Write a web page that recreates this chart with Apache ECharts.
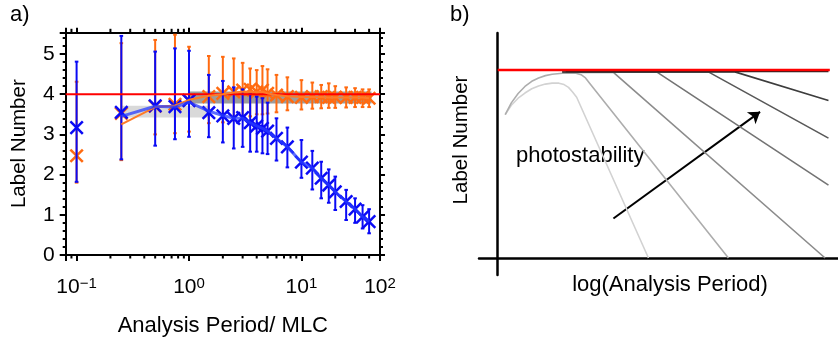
<!DOCTYPE html>
<html>
<head>
<meta charset="utf-8">
<script src="https://cdn.jsdelivr.net/npm/echarts@6/dist/echarts.min.js"></script>
<style>
html, body { margin: 0; padding: 0; background: #fff; }
#main { width: 838px; height: 342px; }
</style>
</head>
<body>
<div id="main"></div>
<script>
// panel a: analysis period (MLC) and label numbers
var period = [0.1, 0.25, 0.5, 0.75, 1, 1.5, 2, 2.5, 3, 3.5, 4, 4.5, 5, 6, 7.5, 10, 12.5, 15, 17.5, 20, 25, 30, 35, 40];
var blueMean = [3.17, 3.55, 3.71, 3.69, 3.84, 3.54, 3.46, 3.40, 3.42, 3.29, 3.21, 3.15, 3.08, 2.90, 2.69, 2.31, 2.16, 1.91, 1.74, 1.57, 1.33, 1.14, 0.95, 0.83];
var blueHigh = [4.81, 5.45, 5.06, 5.14, 5.08, 4.48, 4.33, 4.17, 4.12, 4.00, 3.94, 3.90, 3.79, 3.40, 3.17, 2.86, 2.59, 2.32, 2.13, 1.95, 1.62, 1.41, 1.24, 1.14];
var blueLow = [1.82, 2.38, 2.72, 2.88, 2.94, 2.93, 2.80, 2.65, 2.69, 2.57, 2.57, 2.53, 2.51, 2.35, 2.18, 1.92, 1.63, 1.41, 1.30, 1.12, 0.87, 0.80, 0.66, 0.54];
var orangeMean = [2.47, 3.52, 3.70, 3.75, 3.85, 3.94, 4.02, 4.06, 4.10, 4.12, 4.06, 4.10, 4.02, 3.98, 3.94, 3.92, 3.94, 3.94, 3.92, 3.92, 3.92, 3.92, 3.92, 3.90];
var orangeHigh = [4.31, 5.27, 5.35, 5.48, 5.18, 4.95, 4.93, 4.89, 4.78, 4.64, 4.60, 4.70, 4.62, 4.48, 4.42, 4.35, 4.29, 4.23, 4.27, 4.20, 4.17, 4.15, 4.12, 4.12];
var orangeLow = [1.80, 2.36, 3.00, 3.03, 3.07, 3.28, 3.30, 3.35, 3.40, 3.45, 3.50, 3.50, 3.52, 3.55, 3.60, 3.62, 3.64, 3.65, 3.66, 3.66, 3.67, 3.68, 3.68, 3.68];
// connecting traces start at the second period
var blueTrace = [3.45, 3.70, 3.68, 3.80, 3.58, 3.47, 3.40, 3.40, 3.29, 3.21, 3.15, 3.08, 2.90, 2.69, 2.31, 2.16, 1.91, 1.74, 1.57, 1.33, 1.14, 0.95, 0.83];
var orangeTrace = [3.25, 3.68, 3.72, 3.86, 3.96, 4.00, 4.04, 4.06, 4.07, 4.05, 4.06, 4.02, 3.98, 3.95, 3.93, 3.93, 3.93, 3.92, 3.92, 3.92, 3.92, 3.92, 3.90];
var lightBand = [0.25, 1.5, 3.42, 3.71];   // x0, x1, y0, y1
var darkBand = [1, 42, 3.77, 4.07];
var refLevel = 4;
var xMin = 0.08, xMax = 50, yMax = 5.54;
var xMinorTicks = [0.09, 0.2, 0.3, 0.4, 0.5, 0.6, 0.7, 0.8, 0.9, 2, 3, 4, 5, 6, 7, 8, 9, 20, 30, 40];

// panel b: sketch curves (arbitrary units)
var c1x = [0.22, 0.4, 0.6, 0.8, 1.0, 1.2, 1.4, 1.6, 1.8, 1.95, 2.08, 2.2, 2.32, 4.43];
var c1y = [3.05, 3.25, 3.40, 3.51, 3.60, 3.66, 3.70, 3.72, 3.72, 3.69, 3.63, 3.53, 3.42, 0];
var c2x = [0.22, 0.4, 0.6, 0.8, 1.0, 1.2, 1.4, 1.6, 1.9, 2.3, 2.45, 2.58, 2.7, 6.78];
var c2y = [3.05, 3.30, 3.50, 3.65, 3.76, 3.83, 3.88, 3.91, 3.93, 3.93, 3.90, 3.83, 3.72, 0];
var c3x = [1.9, 3.40, 9.62];
var c3y = [3.95, 3.95, 0];
var c4x = [1.9, 4.67, 9.72];
var c4y = [3.96, 3.96, 1.55];
var c5x = [1.9, 6.19, 9.72];
var c5y = [3.96, 3.96, 2.55];
var c6x = [1.9, 6.97, 9.72];
var c6y = [3.96, 3.96, 3.35];
var flatX = [2.0, 9.72];
var flatY = [3.97, 3.97];
var redX = [0, 9.76];
var redY = [4, 4];
var arrowFrom = [3.40, 0.84];
var arrowTo = [7.71, 3.11];

var FONT = 'Liberation Sans, Arial, Helvetica, sans-serif';
var BLUE = '#0a0af5';
var ORANGE = '#ff6a10';

function pairs(xs, ys) {
    var out = [];
    for (var i = 0; i < xs.length; i++) out.push([xs[i], ys[i]]);
    return out;
}

function errData(mean, low, high) {
    var out = [];
    for (var i = 0; i < period.length; i++) out.push([period[i], mean[i], low[i], high[i]]);
    return out;
}

// decade labels; the figure puts 10^2 at the right end of the axis
function logLabel(v) {
    var l = Math.log(v) / Math.LN10;
    var e = Math.round(l);
    if (Math.abs(l - e) > 1e-6) {
        if (v >= xMax * 0.999) return '{b|10}{s|2}';
        return '';
    }
    return '{b|10}{s|' + (e < 0 ? '\u2212' + (-e) : e) + '}';
}

function errItem(color) {
    return function (params, api) {
        var x = api.value(0);
        var c = api.coord([x, api.value(1)]);
        var lo = api.coord([x, api.value(2)]);
        var hi = api.coord([x, api.value(3)]);
        var s = { stroke: color, lineWidth: 2 };
        var m = 6.2;
        return {
            type: 'group',
            children: [
                { type: 'line', shape: { x1: c[0], y1: hi[1], x2: c[0], y2: lo[1] }, style: s },
                { type: 'rect', shape: { x: c[0] - 1.8, y: hi[1] - 1, width: 3.6, height: 2 }, style: { fill: color } },
                { type: 'rect', shape: { x: c[0] - 1.8, y: lo[1] - 1, width: 3.6, height: 2 }, style: { fill: color } },
                { type: 'line', shape: { x1: c[0] - m, y1: c[1] - m, x2: c[0] + m, y2: c[1] + m }, style: { stroke: color, lineWidth: 2.5 } },
                { type: 'line', shape: { x1: c[0] - m, y1: c[1] + m, x2: c[0] + m, y2: c[1] - m }, style: { stroke: color, lineWidth: 2.5 } }
            ]
        };
    };
}

function bandItem(color) {
    return function (params, api) {
        var p0 = api.coord([api.value(0), api.value(3)]);
        var p1 = api.coord([api.value(1), api.value(2)]);
        return { type: 'rect', shape: { x: p0[0], y: p0[1], width: p1[0] - p0[0], height: p1[1] - p0[1] }, style: { fill: color } };
    };
}

function minorTickItem(params, api) {
    var cs = params.coordSys;
    var x = api.coord([api.value(0), 1])[0];
    var b = cs.y + cs.height, t = cs.y;
    return {
        type: 'group',
        children: [
            { type: 'line', shape: { x1: x, y1: b, x2: x, y2: b + 3.5 }, style: { stroke: '#000', lineWidth: 2 } },
            { type: 'line', shape: { x1: x, y1: t, x2: x, y2: t - 3.5 }, style: { stroke: '#000', lineWidth: 2 } }
        ]
    };
}

var axisLineA = { show: true, onZero: false, lineStyle: { color: '#000', width: 2 } };
var hiddenB = {
    axisLabel: { show: false }, axisTick: { show: false }, splitLine: { show: false },
    axisLine: { show: true, onZero: true, lineStyle: { color: '#000', width: 2.5 } }
};

function curve(xs, ys, color) {
    return {
        type: 'line', xAxisIndex: 2, yAxisIndex: 2, data: pairs(xs, ys),
        symbol: 'none', lineStyle: { color: color, width: 1.6 }, silent: true
    };
}

var myChart = echarts.init(document.getElementById('main'));

var option = {
    animation: false,
    backgroundColor: '#fff',
    textStyle: { fontFamily: FONT },
    grid: [
        { left: 65.7, top: 32.3, right: 458, bottom: 87, outerBoundsMode: 'none', containLabel: false },
        { left: 479, top: 33, right: 0, bottom: 67, outerBoundsMode: 'none', containLabel: false }
    ],
    xAxis: [
        {
            type: 'log', gridIndex: 0, logBase: 10, min: xMin, max: xMax,
            axisLine: axisLineA,
            axisTick: { show: true, inside: false, length: 6, lineStyle: { color: '#000', width: 2 } },
            splitLine: { show: false },
            axisLabel: {
                show: true, margin: 21.5, showMinLabel: true, showMaxLabel: true,
                fontSize: 21, fontFamily: FONT, color: '#000',
                formatter: logLabel,
                rich: {
                    b: { fontSize: 21, fontFamily: FONT, color: '#000', lineHeight: 21, verticalAlign: 'bottom' },
                    s: { fontSize: 15, fontFamily: FONT, color: '#000', lineHeight: 15, verticalAlign: 'top', padding: [0, 0, 11, 0] }
                }
            },
            name: 'Analysis Period/ MLC', nameLocation: 'middle', nameGap: 60,
            nameTextStyle: { fontSize: 22, fontFamily: FONT, color: '#000' }
        },
        {
            type: 'log', gridIndex: 0, position: 'top', logBase: 10, min: xMin, max: xMax,
            axisLine: axisLineA,
            axisTick: { show: true, inside: false, length: 4.5, lineStyle: { color: '#000', width: 2 } },
            axisLabel: { show: false }, splitLine: { show: false }
        },
        { type: 'value', gridIndex: 1, min: -0.55, max: 10, axisLabel: hiddenB.axisLabel, axisTick: hiddenB.axisTick, splitLine: hiddenB.splitLine, axisLine: hiddenB.axisLine }
    ],
    yAxis: [
        {
            type: 'value', gridIndex: 0, min: 0, max: yMax, interval: 1,
            axisLine: axisLineA,
            axisTick: { show: true, inside: false, length: 6, lineStyle: { color: '#000', width: 2 } },
            minorTick: { show: true, splitNumber: 5, length: 3, lineStyle: { color: '#000', width: 2 } },
            splitLine: { show: false }, minorSplitLine: { show: false },
            axisLabel: { fontSize: 21, fontFamily: FONT, color: '#000', margin: 11, showMaxLabel: false },
            name: 'Label Number', nameLocation: 'middle', nameGap: 36,
            nameTextStyle: { fontSize: 20.5, fontFamily: FONT, color: '#000' }
        },
        {
            type: 'value', gridIndex: 0, position: 'right', min: 0, max: yMax, interval: 1,
            axisLine: axisLineA,
            axisTick: { show: true, inside: false, length: 5, lineStyle: { color: '#000', width: 2 } },
            minorTick: { show: true, splitNumber: 5, length: 3, lineStyle: { color: '#000', width: 2 } },
            splitLine: { show: false }, minorSplitLine: { show: false },
            axisLabel: { show: false }
        },
        { type: 'value', gridIndex: 1, min: -0.362, max: 4.787, axisLabel: hiddenB.axisLabel, axisTick: hiddenB.axisTick, splitLine: hiddenB.splitLine, axisLine: hiddenB.axisLine }
    ],
    series: [
        // panel a
        {
            type: 'custom', xAxisIndex: 0, yAxisIndex: 0, silent: true, clip: false,
            data: xMinorTicks.map(function (v) { return [v, 1]; }),
            encode: { x: 0, y: 1 }, renderItem: minorTickItem
        },
        {
            type: 'line', xAxisIndex: 0, yAxisIndex: 0, symbol: 'none', silent: true,
            data: [[xMin, refLevel], [xMax, refLevel]],
            lineStyle: { color: '#ff0000', width: 2 }
        },
        {
            type: 'custom', xAxisIndex: 0, yAxisIndex: 0, silent: true,
            data: [lightBand], encode: { x: [0, 1], y: [2, 3] }, renderItem: bandItem('#d9d9d9')
        },
        {
            type: 'custom', xAxisIndex: 0, yAxisIndex: 0, silent: true,
            data: [darkBand], encode: { x: [0, 1], y: [2, 3] }, renderItem: bandItem('#9c9c9c')
        },
        {
            type: 'line', xAxisIndex: 0, yAxisIndex: 0, symbol: 'none', silent: true,
            data: pairs(period.slice(1), orangeTrace),
            lineStyle: { color: '#ff7a26', width: 2 }
        },
        {
            type: 'custom', xAxisIndex: 0, yAxisIndex: 0, silent: true,
            data: errData(orangeMean, orangeLow, orangeHigh),
            encode: { x: 0, y: [1, 2, 3] }, renderItem: errItem(ORANGE)
        },
        {
            type: 'line', xAxisIndex: 0, yAxisIndex: 0, symbol: 'none', silent: true,
            data: pairs(period.slice(1), blueTrace),
            lineStyle: { color: 'rgba(40,60,255,0.75)', width: 3 }
        },
        {
            type: 'custom', xAxisIndex: 0, yAxisIndex: 0, silent: true,
            data: errData(blueMean, blueLow, blueHigh),
            encode: { x: 0, y: [1, 2, 3] }, renderItem: errItem(BLUE)
        },
        // panel b
        curve(c1x, c1y, '#d2d2d2'),
        curve(c2x, c2y, '#adadad'),
        curve(c3x, c3y, '#8c8c8c'),
        curve(c4x, c4y, '#747474'),
        curve(c5x, c5y, '#595959'),
        curve(c6x, c6y, '#3d3d3d'),
        curve(flatX, flatY, '#222222'),
        {
            type: 'line', xAxisIndex: 2, yAxisIndex: 2, data: pairs(redX, redY),
            symbol: 'none', lineStyle: { color: '#ff0000', width: 2.5 }, silent: true
        },
        {
            type: 'lines', coordinateSystem: 'cartesian2d', xAxisIndex: 2, yAxisIndex: 2, silent: true,
            data: [{ coords: [arrowFrom, arrowTo] }],
            symbol: ['none', 'arrow'], symbolSize: 11,
            lineStyle: { color: '#000', width: 2, opacity: 1, curveness: 0 }
        }
    ],
    graphic: [
        { type: 'text', left: 10, top: 4, style: { text: 'a)', font: '22px ' + FONT, fill: '#000' } },
        { type: 'text', left: 450, top: 4, style: { text: 'b)', font: '22px ' + FONT, fill: '#000' } },
        { type: 'text', x: 516, y: 156, style: { text: 'photostability', font: '22px ' + FONT, fill: '#000', verticalAlign: 'middle', align: 'left' } },
        { type: 'text', x: 670, y: 285, style: { text: 'log(Analysis Period)', font: '22px ' + FONT, fill: '#000', verticalAlign: 'middle', align: 'center' } },
        { type: 'text', x: 461, y: 140, rotation: Math.PI / 2, style: { text: 'Label Number', font: '20.5px ' + FONT, fill: '#000', verticalAlign: 'middle', align: 'center' } }
    ]
};

myChart.setOption(option);
</script>
</body>
</html>
